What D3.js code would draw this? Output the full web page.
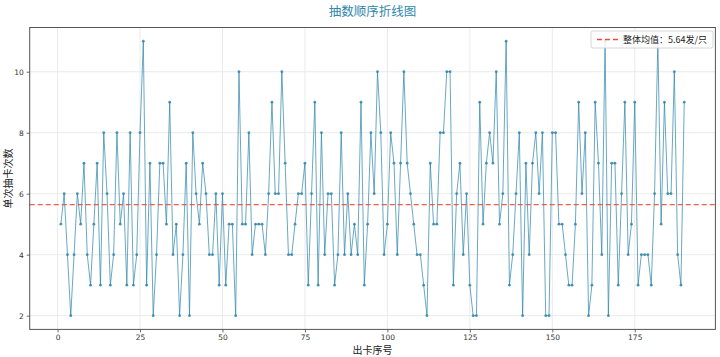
<!DOCTYPE html>
<html><head><meta charset="utf-8">
<script src="https://cdn.jsdelivr.net/npm/d3@7"></script>
<style>
html,body{margin:0;padding:0;background:#fff;}
svg{display:block;}
text{font-family:"Noto Sans CJK SC","DejaVu Sans",sans-serif;}
</style></head>
<body><svg id="c" width="720" height="357"></svg>
<script>
// data: draw counts per card, in order (index starts at 1)
const counts = [
5,6,4,2,4,6,5,7,4,3,5,7,3,8,6,3,4,8,5,6,3,8,3,4,8,
11,3,7,2,4,7,7,5,9,4,5,2,4,7,2,8,6,5,7,6,4,4,6,3,
6,3,5,5,2,10,5,5,8,4,5,5,5,4,6,9,6,6,10,7,4,4,5,6,
6,7,3,6,9,3,8,4,6,6,3,4,8,4,6,4,5,4,9,3,5,8,6,10,
8,4,5,8,7,4,7,10,7,6,5,4,4,3,2,7,5,5,8,8,10,10,3,6,7,
4,6,3,2,2,9,5,7,8,7,10,5,6,11,3,4,6,8,2,7,4,7,8,6,
8,2,2,8,8,5,5,4,3,3,5,9,6,8,2,3,9,7,4,11,2,7,
7,3,6,9,4,5,9,3,4,4,4,3,6,11,5,9,6,6,10,4,3,9
];
const meanValue = 5.64;
const xTicks = [0,25,50,75,100,125,150,175];
const yTicks = [2,4,6,8,10];
const titleText = "抽数顺序折线图";
const xLabel = "出卡序号";
const yLabel = "单次抽卡次数";
const legendText = "整体均值：" + meanValue.toFixed(2) + "发/只";

const data = counts.map((v,i)=>({i:i+1, v:v}));
const svg = d3.select("#c");
const L=29.7, R=715.4, T=27.5, B=329.4;
const n = counts.length;
const mx = 0.05*(n-1);
const x = d3.scaleLinear().domain([1-mx, n+mx]).range([L,R]);
const ymin = d3.min(counts), ymax = d3.max(counts), my = 0.05*(ymax-ymin);
const y = d3.scaleLinear().domain([ymin-my, ymax+my]).range([B,T]);

// grid
const g = svg.append("g");
g.selectAll(".gx").data(xTicks).join("line")
 .attr("x1",d=>x(d)).attr("x2",d=>x(d)).attr("y1",T).attr("y2",B)
 .attr("stroke","#e6e6e6").attr("stroke-width",0.8);
g.selectAll(".gy").data(yTicks).join("line")
 .attr("x1",L).attr("x2",R).attr("y1",d=>y(d)).attr("y2",d=>y(d))
 .attr("stroke","#e6e6e6").attr("stroke-width",0.8);

// axes
const xa = svg.append("g").attr("transform",`translate(0,${B})`)
 .call(d3.axisBottom(x).tickValues(xTicks).tickSize(3).tickPadding(2));
const ya = svg.append("g").attr("transform",`translate(${L},0)`)
 .call(d3.axisLeft(y).tickValues(yTicks).tickSize(3).tickPadding(3));
[xa,ya].forEach(a=>{
  a.select(".domain").remove();
  a.selectAll("line").attr("stroke","#444").attr("stroke-width",0.8);
  a.selectAll("text").attr("fill","#333").style("font-size","7.5px").style("font-family","DejaVu Sans, sans-serif");
});

// frame
svg.append("rect").attr("x",L).attr("y",T).attr("width",R-L).attr("height",B-T)
 .attr("fill","none").attr("stroke","#555").attr("stroke-width",1);

// line
const line = d3.line().x(d=>x(d.i)).y(d=>y(d.v));
svg.append("path").datum(data).attr("d",line)
 .attr("fill","none").attr("stroke","#2E86AB").attr("stroke-opacity",0.8).attr("stroke-width",0.9);
svg.selectAll(".pt").data(data).join("circle")
 .attr("cx",d=>x(d.i)).attr("cy",d=>y(d.v)).attr("r",1.4)
 .attr("fill","#2E86AB").attr("fill-opacity",0.85);

// mean line
svg.append("line").attr("x1",L).attr("x2",R).attr("y1",y(meanValue)).attr("y2",y(meanValue))
 .attr("stroke","#E74C3C").attr("stroke-width",1.3).attr("stroke-dasharray","5,3").attr("stroke-opacity",0.9);

// legend
const lg = svg.append("g");
lg.append("rect").attr("x",591).attr("y",31).attr("width",122).attr("height",17).attr("rx",2)
 .attr("fill","#fff").attr("fill-opacity",0.85).attr("stroke","#ccc").attr("stroke-width",0.8);
lg.append("line").attr("x1",597).attr("x2",618).attr("y1",39.5).attr("y2",39.5)
 .attr("stroke","#E74C3C").attr("stroke-width",1.3).attr("stroke-dasharray","5,3");
lg.append("text").attr("x",623).attr("y",43).text(legendText)
 .attr("fill","#222").style("font-size","9px");

// title and labels
svg.append("text").attr("x",(L+R)/2).attr("y",16).attr("text-anchor","middle")
 .text(titleText).attr("fill","#2E86AB").style("font-size","12.5px");
svg.append("text").attr("x",(L+R)/2).attr("y",354).attr("text-anchor","middle")
 .text(xLabel).attr("fill","#222").style("font-size","10px");
svg.append("text").attr("transform",`translate(12,${(T+B)/2}) rotate(-90)`).attr("text-anchor","middle")
 .text(yLabel).attr("fill","#222").style("font-size","10px");
</script></body></html>
